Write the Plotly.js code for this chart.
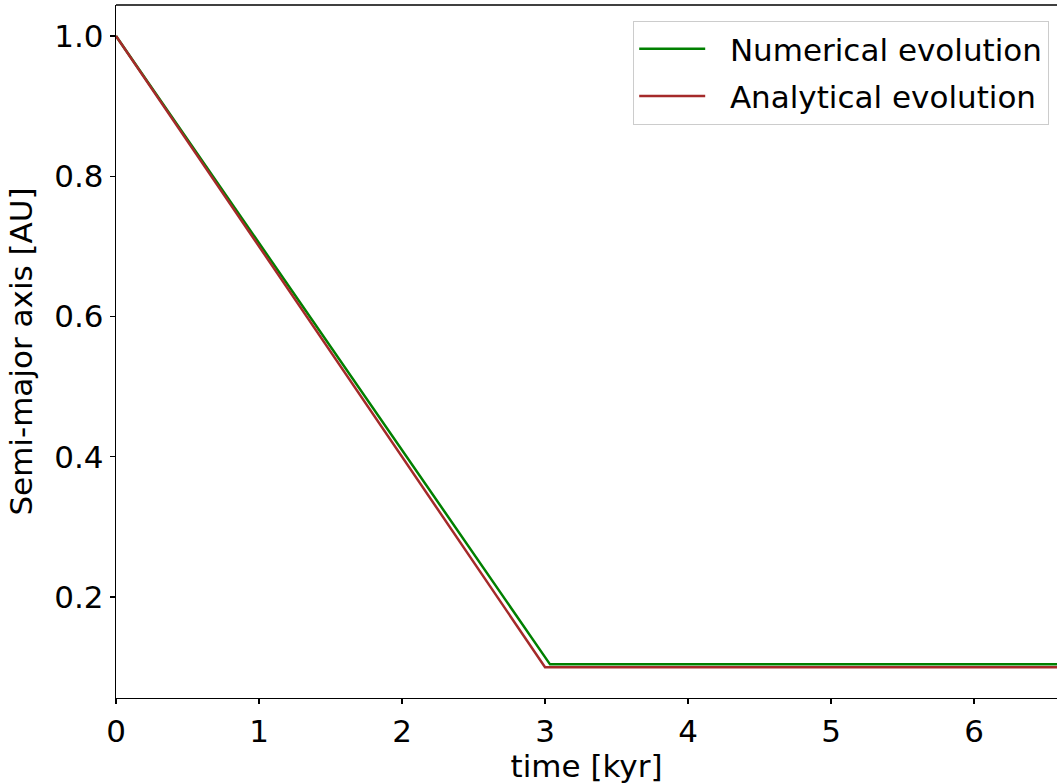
<!DOCTYPE html>
<html>
<head>
<meta charset="utf-8">
<script src="https://cdn.plot.ly/plotly-3.0.1.min.js"></script>
<style>html,body{margin:0;padding:0;background:#fff;}#chart{width:1057px;height:784px;}</style>
</head>
<body>
<div id="chart"></div>
<script>
const numTime = [0, 3.035, 6.6];
const numAxis = [1.0, 0.104, 0.104];
const anaTime = [0, 3.0, 6.6];
const anaAxis = [1.0, 0.1, 0.1];
const xTicks = [0, 1, 2, 3, 4, 5, 6];
const yTicks = [0.2, 0.4, 0.6, 0.8, 1.0];
const seriesNames = ['Numerical evolution', 'Analytical evolution'];

const font = {family: 'DejaVu Sans', size: 31, color: '#000'};
const pad = '\u00a0\u00a0';
const traces = [
  {x: numTime, y: numAxis, mode: 'lines', name: pad + seriesNames[0], legendgroup: 'a', line: {color: 'green', width: 2.5}},
  {x: anaTime, y: anaAxis, mode: 'lines', name: pad + seriesNames[1], legendgroup: 'b', line: {color: 'brown', width: 2.5}}
];
const layout = {
  width: 1057, height: 784,
  margin: {l: 116, r: 0, t: 5, b: 86},
  paper_bgcolor: '#fff', plot_bgcolor: '#fff',
  font: font,
  showlegend: true,
  legend: {x: 0.9915, y: 0.977, xanchor: 'right', yanchor: 'top', bordercolor: '#cccccc', borderwidth: 1.2, bgcolor: 'rgba(255,255,255,0.8)', font: font, itemwidth: 66, traceorder: 'grouped', tracegroupgap: 4},
  xaxis: {
    range: [0, 6.58], tickvals: xTicks, ticktext: xTicks.map(String),
    showgrid: false, zeroline: false, showline: true, linecolor: '#000', linewidth: 1.3,
    ticks: 'outside', ticklen: 5, tickwidth: 1.3, tickcolor: '#000', mirror: false,
    title: {text: 'time [kyr]', font: font, standoff: 2}
  },
  yaxis: {
    range: [0.056, 1.0442], tickvals: yTicks, ticktext: yTicks.map(v => v.toFixed(1)),
    showgrid: false, zeroline: false, showline: true, linecolor: '#000', linewidth: 1.3,
    ticks: 'outside', ticklen: 5, tickwidth: 1.3, tickcolor: '#000',
    title: {text: 'Semi-major axis [AU]', font: font, standoff: 12}
  },
  shapes: [{type: 'line', xref: 'paper', yref: 'paper', x0: 0, x1: 1, y0: 1, y1: 1, line: {color: '#000', width: 1.3}}]
};
Plotly.newPlot('chart', traces, layout, {displayModeBar: false, staticPlot: true});
</script>
</body>
</html>
